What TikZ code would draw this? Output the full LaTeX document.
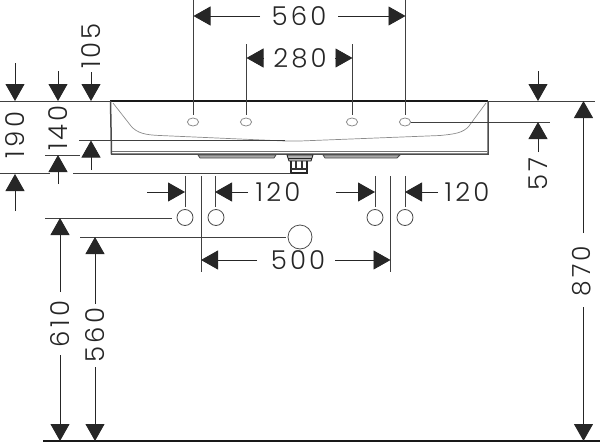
\documentclass[tikz,border=0pt]{standalone}
\usepackage{fontspec}
\setmainfont{Poppins}[UprightFont=* Light]
\usetikzlibrary{arrows.meta}
\tikzset{
  x=1pt,y=-1pt,
  dim/.style={line width=0.9pt,draw=black!85,-{Triangle[length=17pt,width=19pt]}},
  ext/.style={line width=0.9pt,draw=black!75},
  lab/.style={font=\fontsize{26}{26}\selectfont,inner sep=0pt,text=black!85},
  vlab/.style={lab,rotate=90},
  vlabedge/.style={vlab,font=\fontsize{25}{25}\selectfont},
  hole/.style={line width=0.8pt,draw=black!45},
  pipe/.style={line width=0.8pt,draw=black!70},
  body/.style={line width=1pt,draw=black!70},
}
\newcommand{\sptxt}[1]{\addfontfeatures{LetterSpace=12}#1}
\begin{document}
\begin{tikzpicture}
\useasboundingbox (0,0) rectangle (600,442);
% named points: reference lines
\coordinate (top0) at (0,101); \coordinate (topL) at (110,101); \coordinate (topR) at (488,101); \coordinate (top1) at (595,101);
\coordinate (base0) at (43,441); \coordinate (base1) at (600,441);
\draw[ext] (top0)--(topL);
\draw[line width=2.4pt,black!90] (topL)--(topR);
\draw[ext] (topR)--(top1);
\draw[line width=1.2pt,black!90] (base0)--(base1);
% basin
\draw[body,line width=1.5pt] (110.5,101)--(111.5,154)--(488,154)--(488,101);
\draw[line width=.7pt,black!55] (112,151.5)--(487,151.5);
\draw[line width=.7pt,black!45] (113,103)--(131,126) .. controls (137,133) and (145,135) .. (160,135.5)--(285,141);
\draw[line width=.7pt,black!45] (486,103)--(469,126) .. controls (463,133) and (455,134) .. (440,135.5)--(300,141)--(285,141);
\draw[ext] (79,140.5)--(285,140.5);
% overflow plates and drain
\draw[line width=.8pt,black!70,fill=black!35] (198,155)--(200,158)--(274,158)--(276,155)--cycle;
\draw[line width=.8pt,black!70,fill=black!35] (323,155)--(325,158)--(397,158)--(400,155)--cycle;
\draw[line width=.9pt,black!85,fill=black!30] (287,155)--(313,155)--(311,161)--(289,161)--cycle;
\draw[line width=.7pt,black!85] (288,158)--(312,158);
\draw[line width=1.1pt,black!85] (291,161)--(291,173)--(307,173)--(307,161);
\draw[line width=1.3pt,black!80] (291,169)--(307,169) (296,161)--(296,169) (302,161)--(302,169);
% tap holes
\draw[hole] (193,122) ellipse [x radius=5.6,y radius=4];
\draw[hole] (246,122) ellipse [x radius=5.6,y radius=4];
\draw[hole] (352,122) ellipse [x radius=5.6,y radius=4];
\draw[hole] (405,122) ellipse [x radius=5.6,y radius=4];
% top dimensions
\coordinate (e1a) at (193.5,0); \coordinate (e1b) at (193.5,115);
\coordinate (e2a) at (246.5,44); \coordinate (e2b) at (246.5,115);
\coordinate (e3a) at (352.5,44); \coordinate (e3b) at (352.5,115);
\coordinate (e4a) at (405.5,0); \coordinate (e4b) at (405.5,115);
\draw[ext] (e1a)--(e1b); \draw[ext] (e2a)--(e2b); \draw[ext] (e3a)--(e3b); \draw[ext] (e4a)--(e4b);
\node[lab] (t560) at (299,16) {\sptxt{560}};
\draw[dim] (260,16)--(193.5,16);
\draw[dim] (338,16)--(405.5,16);
\node[lab] (t280) at (300,58) {\sptxt{280}};
\draw[dim] (264,58)--(246.5,58);
\draw[dim] (335,58)--(352.5,58);
% left dimensions
\draw[ext] (0,173.5)--(50,173.5);
\draw[ext] (73,173.5)--(291,173.5);
\draw[ext] (45,155)--(80,155);
\node[vlab] (t190) at (15,135) {\sptxt{190}};
\draw[dim] (15,63)--(15,101);
\draw[dim] (15,211)--(15,174);
\node[vlab] (t140) at (58,128) {\sptxt{140}};
\draw[dim] (58,71)--(58,101);
\draw[dim] (58,184)--(58,155);
\node[vlab] (t105) at (91,46) {\sptxt{105}};
\draw[dim] (91,72)--(91,101);
\draw[dim] (91,170)--(91,140.5);
% right dimensions
\draw[ext] (411,122)--(550,122);
\node[vlab] (t57) at (538,174) {\sptxt{57}};
\draw[dim] (538,71)--(538,101);
\draw[dim] (538,152)--(538,122);
\node[vlabedge] (t870) at (582,271) {\sptxt{870}};
\draw[dim] (583.5,233)--(583.5,101);
\draw[dim] (583.5,307)--(583.5,441);
% connections
\foreach \n/\x/\y/\r in {c1/185/217.5/8,c2/216/217.5/8,c3/375/217.5/8,c4/405/217.5/8,c5/300/237/12}{
  \draw[pipe] (\x,\y) circle [radius=\r];
  \coordinate (\n) at (\x,\y);
}
\draw[ext] (185,176)--(185,207);
\draw[ext] (215,176)--(215,207);
\draw[ext] (375,176)--(375,207);
\draw[ext] (405,176)--(405,207);
\draw[ext] (201,176)--(201,272);
\draw[ext] (390.5,176)--(390.5,272);
\draw[dim] (147,192)--(185,192);
\draw[dim] (248,192)--(215,192);
\node[lab] (t120a) at (278,192) {\sptxt{120}};
\draw[dim] (336,192)--(375,192);
\draw[dim] (438,192)--(405,192);
\node[lab] (t120b) at (467,192) {\sptxt{120}};
\draw[ext] (45,218)--(172,218);
\draw[ext] (80,237)--(286,237);
\node[lab] (t500) at (298,260) {\sptxt{500}};
\draw[dim] (257,260)--(201,260);
\draw[dim] (335,260)--(390.5,260);
\node[vlab] (t610) at (60,324) {\sptxt{610}};
\draw[dim] (60,292)--(60,218);
\draw[dim] (60,355)--(60,441);
\node[vlab] (t560b) at (95,335) {\sptxt{560}};
\draw[dim] (95,304)--(95,237);
\draw[dim] (95,367)--(95,441);
\end{tikzpicture}
\end{document}
